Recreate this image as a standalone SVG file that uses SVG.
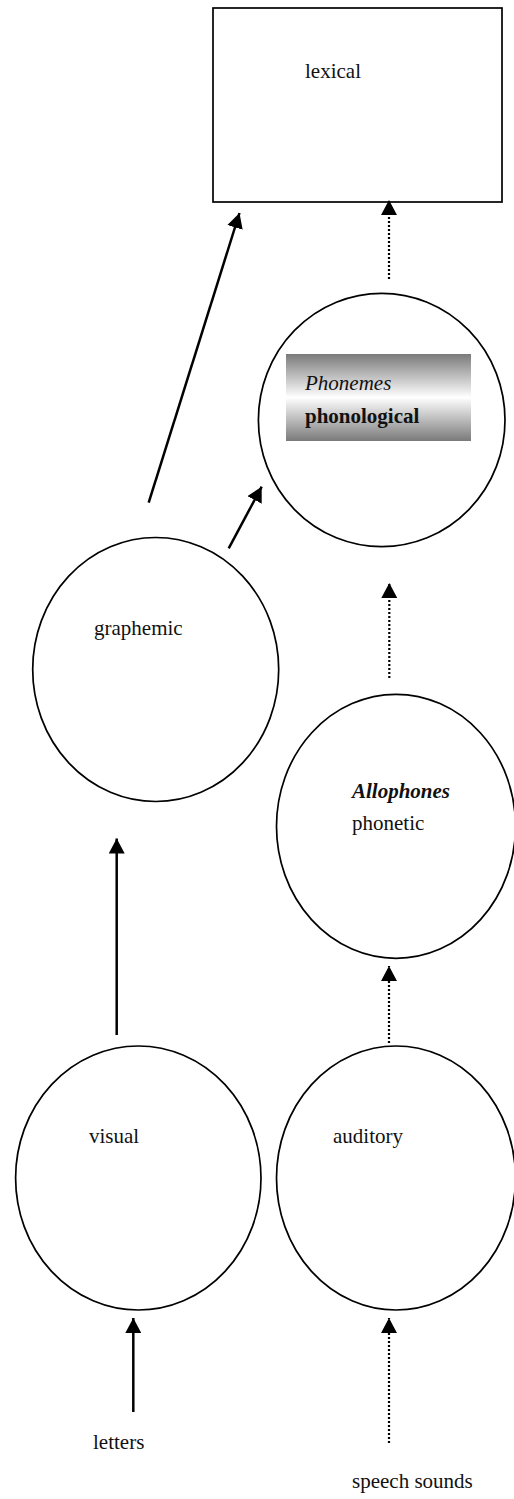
<svg xmlns="http://www.w3.org/2000/svg" width="514" height="1499" viewBox="0 0 514 1499">
<style>
.node{fill:#fff;stroke:#000;stroke-width:1.7}
.lbl{font-family:"Liberation Serif","Times New Roman",serif;font-size:21px;fill:#111}
.solid{stroke:#000;stroke-width:2.5;fill:none}
.dot{stroke:#000;stroke-width:2.2;stroke-dasharray:2 2;fill:none}
</style>
<defs>
<marker id="ah" viewBox="0 0 15 16" refX="15" refY="8" markerWidth="15" markerHeight="16" markerUnits="userSpaceOnUse" orient="auto">
<path d="M0,0 L15,8 L0,16 Z" fill="#000"/>
</marker>
<linearGradient id="gr" x1="0" y1="0" x2="0" y2="1">
<stop offset="0" stop-color="#7a7a7a"/>
<stop offset="0.5" stop-color="#ffffff"/>
<stop offset="1" stop-color="#7a7a7a"/>
</linearGradient>
</defs>
<rect width="514" height="1499" fill="#fff"/>
<g id="lexical">
<rect class="node" x="213" y="8" width="289" height="194"/>
<text class="lbl" x="305" y="78">lexical</text>
</g>
<g id="phonological">
<ellipse class="node" cx="381.7" cy="420" rx="123.3" ry="126.7"/>
<rect x="286" y="354" width="185" height="87" fill="url(#gr)"/>
<text class="lbl" x="305" y="390" font-style="italic">Phonemes</text>
<text class="lbl" x="305" y="423" font-weight="bold">phonological</text>
</g>
<g id="graphemic">
<ellipse class="node" cx="155.7" cy="669.5" rx="123" ry="132"/>
<text class="lbl" x="94" y="635">graphemic</text>
</g>
<g id="phonetic">
<ellipse class="node" cx="396" cy="826.3" rx="119.5" ry="132"/>
<text class="lbl" x="352" y="798" font-style="italic" font-weight="bold">Allophones</text>
<text class="lbl" x="352" y="830">phonetic</text>
</g>
<g id="visual">
<ellipse class="node" cx="138.3" cy="1178" rx="122.7" ry="132"/>
<text class="lbl" x="89" y="1143">visual</text>
</g>
<g id="auditory">
<ellipse class="node" cx="396" cy="1178" rx="119.5" ry="132"/>
<text class="lbl" x="333" y="1143">auditory</text>
</g>
<g id="letters">
<text class="lbl" x="93" y="1449">letters</text>
</g>
<g id="speech-sounds">
<text class="lbl" x="352" y="1488">speech sounds</text>
</g>
<g id="connectors">
<line class="dot" x1="389" y1="279" x2="389" y2="200" marker-end="url(#ah)"/>
<line class="solid" x1="148.7" y1="502.7" x2="239.5" y2="213" marker-end="url(#ah)"/>
<line class="solid" x1="228.7" y1="548.3" x2="261.7" y2="486.7" marker-end="url(#ah)"/>
<line class="dot" x1="389.3" y1="678" x2="389.3" y2="583" marker-end="url(#ah)"/>
<line class="solid" x1="116.7" y1="1035" x2="116.7" y2="838.5" marker-end="url(#ah)"/>
<line class="dot" x1="389" y1="1043" x2="389" y2="966" marker-end="url(#ah)"/>
<line class="solid" x1="133.3" y1="1412" x2="133.3" y2="1318" marker-end="url(#ah)"/>
<line class="dot" x1="389" y1="1443" x2="389" y2="1318" marker-end="url(#ah)"/>
</g>
</svg>
